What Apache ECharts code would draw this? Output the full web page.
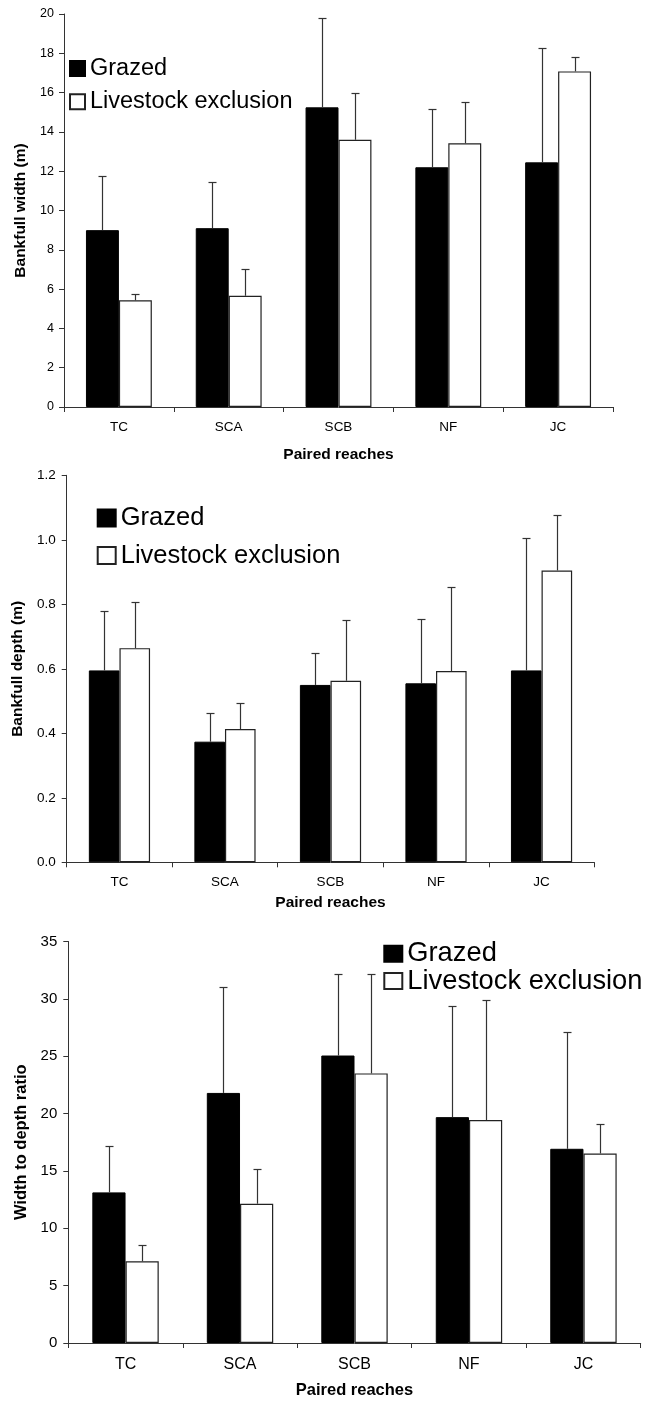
<!DOCTYPE html>
<html>
<head>
<meta charset="utf-8">
<script src="https://cdn.jsdelivr.net/npm/echarts@6/dist/echarts.min.js"></script>
<style>
  html, body { margin: 0; padding: 0; background: #fff; }
  #chart { width: 649px; height: 1414px; }
</style>
</head>
<body>
<div id="chart"></div>
<script>
// Paired reaches (grazed vs. livestock exclusion)
const categories = ['TC', 'SCA', 'SCB', 'NF', 'JC'];
const seriesNames = ['Grazed', 'Livestock exclusion'];

// Bankfull width (m): means and standard errors
const widthGrazed = [9.0, 9.1, 15.25, 12.2, 12.45];
const widthGrazedSE = [2.74, 2.35, 4.55, 2.98, 5.82];
const widthExcl = [5.43, 5.66, 13.6, 13.42, 17.08];
const widthExclSE = [0.32, 1.34, 2.36, 2.08, 0.73];

// Bankfull depth (m)
const depthGrazed = [0.595, 0.374, 0.55, 0.555, 0.595];
const depthGrazedSE = [0.185, 0.089, 0.098, 0.198, 0.411];
const depthExcl = [0.664, 0.413, 0.563, 0.593, 0.905];
const depthExclSE = [0.143, 0.08, 0.187, 0.262, 0.171];

// Width to depth ratio
const ratioGrazed = [13.13, 21.8, 25.06, 19.69, 16.93];
const ratioGrazedSE = [4.07, 9.2, 7.09, 9.71, 10.17];
const ratioExcl = [7.12, 12.14, 23.5, 19.43, 16.52];
const ratioExclSE = [1.45, 3.06, 8.65, 10.51, 2.56];

// Value axis ranges [min, max, step]
const widthAxis = [0, 20, 2];
const depthAxis = [0, 1.2, 0.2];
const ratioAxis = [0, 35, 5];

const FONT = '"Liberation Sans", Arial, sans-serif';
const AXIS_COLOR = '#333';

const panels = [
  { grid: { left: 64, right: 36, top: 14, height: 393 },
    axis: widthAxis, yName: 'Bankfull width (m)', decimals: 0,
    barPct: 0.30, tickFont: 12.5, catFont: 13.5, nameFont: 15.5,
    yNameGap: 33, xNameGap: 40, catMargin: 13, yLabelMargin: 10,
    grazed: widthGrazed, grazedSE: widthGrazedSE, excl: widthExcl, exclSE: widthExclSE,
    legend: { left: 69, top: 56.5, font: 23.5, lh: 24, gap: 9.3, w: 15, h: 15 } },
  { grid: { left: 66.7, right: 54.7, top: 475.3, height: 387 },
    axis: depthAxis, yName: 'Bankfull depth (m)', decimals: 1,
    barPct: 0.29, tickFont: 13.5, catFont: 13.5, nameFont: 15.5,
    yNameGap: 36, xNameGap: 32, catMargin: 13, yLabelMargin: 11,
    grazed: depthGrazed, grazedSE: depthGrazedSE, excl: depthExcl, exclSE: depthExclSE,
    legend: { left: 96.7, top: 505, font: 25.5, lh: 26, gap: 11.5, w: 18, h: 17 } },
  { grid: { left: 68.3, right: 8.3, top: 941.5, height: 401.5 },
    axis: ratioAxis, yName: 'Width to depth ratio', decimals: 0,
    barPct: 0.29, tickFont: 15, catFont: 16, nameFont: 16.5,
    yNameGap: 35.5, xNameGap: 39, catMargin: 14, yLabelMargin: 11,
    grazed: ratioGrazed, grazedSE: ratioGrazedSE, excl: ratioExcl, exclSE: ratioExclSE,
    legend: { left: 383.3, top: 940.2, font: 27.3, lh: 27, gap: 0.3, w: 18, h: 16 } }
];

// Upper error bar drawn above the bar on the given side of the category centre
function errorBar(pct, side) {
  return function (params, api) {
    const i = api.value(0);
    const mean = api.value(1);
    const se = api.value(2);
    const band = api.size([1, 0])[0];
    const bw = band * pct;
    const base = api.coord([i, mean]);
    const top = api.coord([i, mean + se]);
    const x = Math.round(base[0] + side * bw / 2) + 0.5;
    const yTop = Math.round(top[1]) + 0.5;
    const style = { stroke: '#333', lineWidth: 1.2 };
    return {
      type: 'group',
      children: [
        { type: 'line', shape: { x1: x, y1: base[1], x2: x, y2: yTop }, style: style },
        { type: 'line', shape: { x1: x - 4, y1: yTop, x2: x + 4, y2: yTop }, style: style }
      ]
    };
  };
}

const option = {
  animation: false,
  backgroundColor: '#fff',
  textStyle: { fontFamily: FONT, color: '#000' },
  grid: [], xAxis: [], yAxis: [], series: [], legend: []
};

panels.forEach((p, k) => {
  option.grid.push(Object.assign({ containLabel: false }, p.grid));
  option.xAxis.push({
    type: 'category', gridIndex: k, data: categories,
    name: 'Paired reaches', nameLocation: 'middle', nameGap: p.xNameGap,
    nameTextStyle: { fontFamily: FONT, fontWeight: 'bold', fontSize: p.nameFont, color: '#000' },
    axisLine: { lineStyle: { color: AXIS_COLOR, width: 1 } },
    axisTick: { show: true, length: 5, inside: false, lineStyle: { color: AXIS_COLOR } },
    axisLabel: { fontFamily: FONT, fontSize: p.catFont, color: '#000', margin: p.catMargin },
    splitLine: { show: false }
  });
  option.yAxis.push({
    type: 'value', gridIndex: k,
    min: p.axis[0], max: p.axis[1], interval: p.axis[2],
    name: p.yName, nameLocation: 'middle', nameGap: p.yNameGap,
    nameTextStyle: { fontFamily: FONT, fontWeight: 'bold', fontSize: p.nameFont, color: '#000' },
    axisLine: { show: true, lineStyle: { color: AXIS_COLOR, width: 1 } },
    axisTick: { show: true, length: 5, inside: false, lineStyle: { color: AXIS_COLOR } },
    axisLabel: {
      fontFamily: FONT, fontSize: p.tickFont, color: '#000', margin: p.yLabelMargin,
      formatter: v => v.toFixed(p.decimals)
    },
    splitLine: { show: false }
  });
  const pct = (p.barPct * 100) + '%';
  option.series.push({
    name: seriesNames[0], type: 'bar', xAxisIndex: k, yAxisIndex: k,
    data: p.grazed, barWidth: pct, barGap: '0%',
    itemStyle: { color: '#000', borderColor: '#000', borderWidth: 1 }
  });
  option.series.push({
    name: seriesNames[1], type: 'bar', xAxisIndex: k, yAxisIndex: k,
    data: p.excl, barWidth: pct, barGap: '0%',
    itemStyle: { color: '#fff', borderColor: '#222', borderWidth: 1.2 }
  });
  option.series.push({
    name: 'grazed-se-' + k, type: 'custom', xAxisIndex: k, yAxisIndex: k, z: 5,
    renderItem: errorBar(p.barPct, -1),
    encode: { x: 0, y: 1 },
    data: p.grazed.map((v, i) => [i, v, p.grazedSE[i]])
  });
  option.series.push({
    name: 'excl-se-' + k, type: 'custom', xAxisIndex: k, yAxisIndex: k, z: 5,
    renderItem: errorBar(p.barPct, 1),
    encode: { x: 0, y: 1 },
    data: p.excl.map((v, i) => [i, v, p.exclSE[i]])
  });
  option.legend.push({
    data: seriesNames, orient: 'vertical',
    left: p.legend.left, top: p.legend.top, padding: 0,
    itemWidth: p.legend.w, itemHeight: p.legend.h, itemGap: p.legend.gap,
    icon: 'rect', selectedMode: false,
    textStyle: { fontFamily: FONT, fontSize: p.legend.font, lineHeight: p.legend.lh, color: '#000' }
  });
});

const chart = echarts.init(document.getElementById('chart'), null, { renderer: 'canvas' });
chart.setOption(option);
</script>
</body>
</html>
